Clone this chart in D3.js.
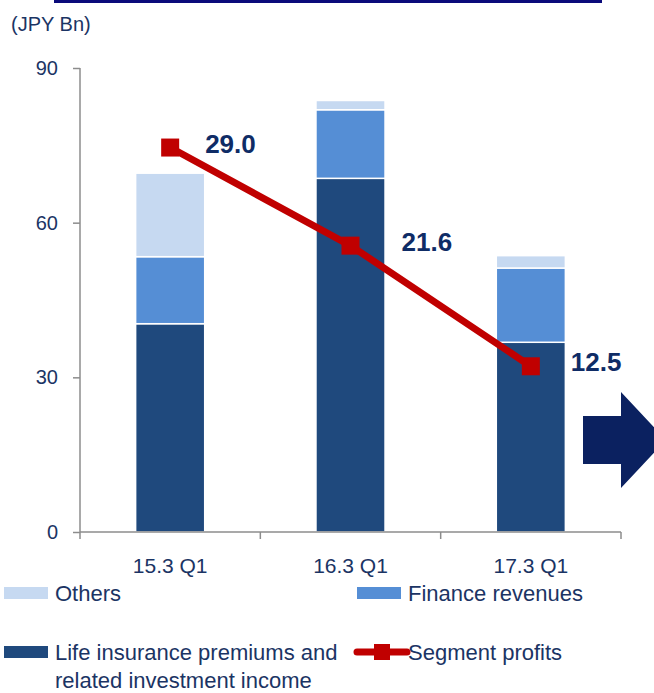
<!DOCTYPE html>
<html>
<head>
<meta charset="utf-8">
<script src="https://cdn.jsdelivr.net/npm/d3@7"></script>
<style>
  html, body { margin: 0; padding: 0; background: #fff; }
  svg { display: block; font-family: "Liberation Sans", Arial, sans-serif; }
</style>
</head>
<body>
<div id="chart"></div>
<script>
// chart data
const categories = ["15.3 Q1", "16.3 Q1", "17.3 Q1"];
const lifeInsurance = [40.4, 68.6, 36.8];
const financeRevenues = [13.0, 13.3, 14.4];
const others = [16.2, 1.8, 2.4];
const segmentProfits = [29.0, 21.6, 12.5];
const yTicks = [0, 30, 60, 90];
const seriesNames = ["Life insurance premiums and related investment income", "Finance revenues", "Others"];

const W = 654, H = 693;
const margin = { top: 68, left: 80, right: 33, bottom: 161 };
const width = W - margin.left - margin.right,
  height = H - margin.top - margin.bottom;

const navyText = "#1b3464";
const colors = {
  "Others": "#c6d9f1",
  "Finance revenues": "#558ed5",
  "Life insurance premiums and related investment income": "#1f497d"
};

const svg = d3.select("#chart")
  .append("svg")
  .attr("width", W)
  .attr("height", H);

// heading rule at the very top
svg.append("rect")
  .attr("x", 54).attr("y", 0)
  .attr("width", 548).attr("height", 3)
  .attr("fill", "#0a0a7a");

svg.append("text")
  .attr("x", 11).attr("y", 31)
  .attr("fill", navyText)
  .attr("font-size", 20)
  .text("(JPY Bn)");

const g = svg.append("g")
  .attr("transform", `translate(${margin.left},${margin.top})`);

const x = d3.scaleBand()
  .domain(categories)
  .range([0, width])
  .padding(0);

const y = d3.scaleLinear()
  .domain([0, 90])
  .range([height, 0]);

// secondary (hidden) scale for segment profits
const y2 = d3.scaleLinear()
  .domain([0, 35])
  .range([height, 0]);

// stacked data
const rows = categories.map((c, i) => ({
  category: c,
  "Life insurance premiums and related investment income": lifeInsurance[i],
  "Finance revenues": financeRevenues[i],
  "Others": others[i]
}));
const stacked = d3.stack().keys(seriesNames)(rows);

const barW = x.bandwidth() * 0.383;

g.selectAll(".series")
  .data(stacked)
  .join("g")
  .attr("fill", d => colors[d.key])
  .selectAll("rect")
  .data(d => d)
  .join("rect")
  .attr("x", d => x(d.data.category) + (x.bandwidth() - barW) / 2)
  .attr("y", d => y(d[1]))
  .attr("width", barW)
  .attr("height", d => y(d[0]) - y(d[1]))
  .attr("stroke", "#fff")
  .attr("stroke-width", 1.5);

// axes
const yAxis = g.append("g")
  .call(d3.axisLeft(y).tickValues(yTicks).tickSize(7).tickPadding(15));
yAxis.select(".domain").attr("stroke", "#8c8c8c").attr("stroke-width", 1.5)
  .attr("d", `M0,${height}V0`);
yAxis.selectAll(".tick line").attr("stroke", "#8c8c8c").attr("stroke-width", 1.5);
yAxis.selectAll(".tick text")
  .attr("fill", navyText)
  .attr("font-size", 20)
  .attr("font-family", "Liberation Sans, Arial, sans-serif");

const xAxis = g.append("g")
  .attr("transform", `translate(0,${height})`)
  .call(d3.axisBottom(x).tickSize(0).tickPadding(26));
xAxis.select(".domain").attr("stroke", "#8c8c8c").attr("stroke-width", 1.5)
  .attr("d", `M0,0H${width}`);
xAxis.selectAll(".tick text")
  .attr("fill", navyText)
  .attr("font-size", 21)
  .attr("font-family", "Liberation Sans, Arial, sans-serif");

// category boundary ticks
g.append("g")
  .selectAll("line")
  .data(d3.range(categories.length + 1))
  .join("line")
  .attr("x1", i => i * x.step())
  .attr("x2", i => i * x.step())
  .attr("y1", height)
  .attr("y2", height + 7)
  .attr("stroke", "#8c8c8c")
  .attr("stroke-width", 1.5);

// segment profits line
const line = d3.line()
  .x((d, i) => x(categories[i]) + x.bandwidth() / 2)
  .y(d => y2(d));

g.append("path")
  .datum(segmentProfits)
  .attr("fill", "none")
  .attr("stroke", "#c00000")
  .attr("stroke-width", 7)
  .attr("d", line);

g.selectAll(".marker")
  .data(segmentProfits)
  .join("rect")
  .attr("x", (d, i) => x(categories[i]) + x.bandwidth() / 2 - 9)
  .attr("y", d => y2(d) - 9)
  .attr("width", 18)
  .attr("height", 18)
  .attr("fill", "#c00000");

const labelDx = [35, 51, 40];
g.selectAll(".profit-label")
  .data(segmentProfits)
  .join("text")
  .attr("x", (d, i) => x(categories[i]) + x.bandwidth() / 2 + labelDx[i])
  .attr("y", d => y2(d) + 5)
  .attr("fill", "#0f2c66")
  .attr("font-size", 26)
  .attr("font-weight", "bold")
  .text(d => d.toFixed(1));

// arrow at right
svg.append("path")
  .attr("d", "M583,416H621V392L666,440L621,488V464H583Z")
  .attr("fill", "#0b2160");

// legend
const legendItems = [
  { label: ["Others"], color: colors["Others"], type: "bar", col: 0, row: 0 },
  { label: ["Finance revenues"], color: colors["Finance revenues"], type: "bar", col: 1, row: 0 },
  { label: ["Life insurance premiums and", "related investment income"], color: colors[seriesNames[0]], type: "bar", col: 0, row: 1 },
  { label: ["Segment profits"], color: "#c00000", type: "line", col: 1, row: 1 }
];

const legend = svg.selectAll(".legend")
  .data(legendItems)
  .join("g")
  .attr("transform", d => `translate(${4 + d.col * 353},${593 + d.row * 59})`);

legend.filter(d => d.type === "bar")
  .append("rect")
  .attr("x", 0)
  .attr("y", -6)
  .attr("width", 44)
  .attr("height", 12)
  .attr("fill", d => d.color);

const lineItem = legend.filter(d => d.type === "line");
lineItem.append("line")
  .attr("x1", 0).attr("x2", 50)
  .attr("y1", 0).attr("y2", 0)
  .attr("stroke", d => d.color)
  .attr("stroke-width", 7)
  .attr("stroke-linecap", "round");
lineItem.append("rect")
  .attr("x", 17).attr("y", -8)
  .attr("width", 16).attr("height", 16)
  .attr("fill", d => d.color);

legend.append("text")
  .attr("x", 51)
  .attr("y", 8)
  .attr("fill", navyText)
  .attr("font-size", 22)
  .selectAll("tspan")
  .data(d => d.label)
  .join("tspan")
  .attr("x", 51)
  .attr("dy", (d, i) => i === 0 ? 0 : 28)
  .text(d => d);
</script>
</body>
</html>
